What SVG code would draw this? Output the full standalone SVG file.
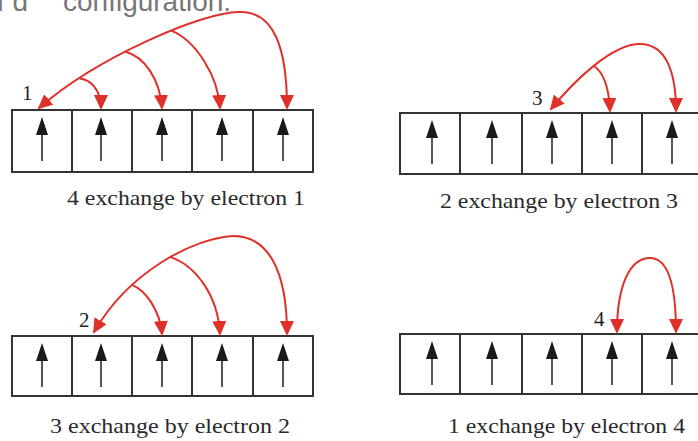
<svg xmlns="http://www.w3.org/2000/svg" xmlns:xlink="http://www.w3.org/1999/xlink" width="698" height="441" viewBox="0 0 698 441">
  <style>
    .cell { fill: #ffffff; stroke: #333333; stroke-width: 2; }
    .shaft { stroke: #555555; stroke-width: 2; }
    .head { fill: #1a1a1a; }
    .exch { fill: none; stroke: #e0302a; stroke-width: 2; marker-end: url(#redhead); }
    .num { font-family: "Liberation Serif", "Times New Roman", serif; font-size: 21px; fill: #222222; }
    .cap { font-family: "Liberation Serif", "Times New Roman", serif; font-size: 22px; fill: #2a2a2a; }
    .top { font-family: "Liberation Sans", Arial, sans-serif; font-size: 28px; fill: #777777; }
  </style>
  <defs>
    <!-- red arrowhead for exchange connectors; tip sits 2px past the path end -->
    <marker id="redhead" markerUnits="userSpaceOnUse" markerWidth="17" markerHeight="15" refX="13" refY="7" orient="auto">
      <path d="M0,0 L15,7 L0,14 z" fill="#e0302a"/>
    </marker>
    <!-- spin-up electron, origin at cell top centre -->
    <g id="spin">
      <line class="shaft" x1="0" y1="24" x2="0" y2="51"/>
      <path class="head" d="M0,7 L-6,25 L6,25 z"/>
    </g>
  </defs>

  <rect width="698" height="441" fill="#ffffff"/>

  <!-- heading text, clipped by the top edge -->
  <text class="top" x="28" y="11" text-anchor="end">of d</text>
  <text class="top" x="63" y="11">configuration.</text>

  <!-- orbital row: electron 1 -->
  <g id="row-e1">
    <rect class="cell" x="12" y="110" width="60" height="62"/>
    <rect class="cell" x="72" y="110" width="60" height="62"/>
    <rect class="cell" x="132" y="110" width="60" height="62"/>
    <rect class="cell" x="192" y="110" width="61" height="62"/>
    <rect class="cell" x="253" y="110" width="60" height="62"/>
    <use xlink:href="#spin" x="42" y="110"/>
    <use xlink:href="#spin" x="101" y="110"/>
    <use xlink:href="#spin" x="162" y="110"/>
    <use xlink:href="#spin" x="222" y="110"/>
    <use xlink:href="#spin" x="283" y="110"/>
    <text class="num" x="22" y="100">1</text>
    <text class="cap" x="67" y="205" textLength="238" lengthAdjust="spacingAndGlyphs">4 exchange by electron 1</text>
  </g>

  <!-- orbital row: electron 3 -->
  <g id="row-e3">
    <rect class="cell" x="400" y="113" width="60" height="61"/>
    <rect class="cell" x="460" y="113" width="62" height="61"/>
    <rect class="cell" x="522" y="113" width="60" height="61"/>
    <rect class="cell" x="582" y="113" width="60" height="61"/>
    <rect class="cell" x="642" y="113" width="60" height="61"/>
    <use xlink:href="#spin" x="432" y="113"/>
    <use xlink:href="#spin" x="492" y="113"/>
    <use xlink:href="#spin" x="552" y="113"/>
    <use xlink:href="#spin" x="612" y="113"/>
    <use xlink:href="#spin" x="672" y="113"/>
    <text class="num" x="532" y="105">3</text>
    <text class="cap" x="440" y="208" textLength="238" lengthAdjust="spacingAndGlyphs">2 exchange by electron 3</text>
  </g>

  <!-- orbital row: electron 2 -->
  <g id="row-e2">
    <rect class="cell" x="12" y="336" width="60" height="60"/>
    <rect class="cell" x="72" y="336" width="60" height="60"/>
    <rect class="cell" x="132" y="336" width="60" height="60"/>
    <rect class="cell" x="192" y="336" width="61" height="60"/>
    <rect class="cell" x="253" y="336" width="60" height="60"/>
    <use xlink:href="#spin" x="42" y="336"/>
    <use xlink:href="#spin" x="101" y="336"/>
    <use xlink:href="#spin" x="162" y="336"/>
    <use xlink:href="#spin" x="222" y="336"/>
    <use xlink:href="#spin" x="283" y="336"/>
    <text class="num" x="79" y="327">2</text>
    <text class="cap" x="50" y="433" textLength="240" lengthAdjust="spacingAndGlyphs">3 exchange by electron 2</text>
  </g>

  <!-- orbital row: electron 4 -->
  <g id="row-e4">
    <rect class="cell" x="400" y="334" width="60" height="60"/>
    <rect class="cell" x="460" y="334" width="62" height="60"/>
    <rect class="cell" x="522" y="334" width="60" height="60"/>
    <rect class="cell" x="582" y="334" width="60" height="60"/>
    <rect class="cell" x="642" y="334" width="60" height="60"/>
    <use xlink:href="#spin" x="432" y="334"/>
    <use xlink:href="#spin" x="492" y="334"/>
    <use xlink:href="#spin" x="552" y="334"/>
    <use xlink:href="#spin" x="612" y="334"/>
    <use xlink:href="#spin" x="672" y="334"/>
    <text class="num" x="594" y="326">4</text>
    <text class="cap" x="448" y="433" textLength="237" lengthAdjust="spacingAndGlyphs">1 exchange by electron 4</text>
  </g>

  <!-- exchange connectors -->
  <g id="connectors">
    <!-- electron 1 -->
    <path class="exch" d="M238,12 C205,12 100,55 39,108"/>
    <path class="exch" d="M238,12 C275,10 287,50 287,108"/>
    <path class="exch" d="M80,78.6 C91,80 101,90 101,108"/>
    <path class="exch" d="M125.6,51.8 C145,57 160,80 162,108"/>
    <path class="exch" d="M171.2,30.6 C195,40 218,75 220,108"/>
    <!-- electron 3 -->
    <path class="exch" d="M640,44 C612,44 575,80 551,109"/>
    <path class="exch" d="M640,44 C665,44 676,70 676,111"/>
    <path class="exch" d="M594,66 C603,72 609,88 610,111"/>
    <!-- electron 2 -->
    <path class="exch" d="M233,236 C195,238 130,270 94,332"/>
    <path class="exch" d="M233,236 C268,236 287,270 287,334"/>
    <path class="exch" d="M132.4,285.1 C145,290 160,310 162,334"/>
    <path class="exch" d="M170.3,257.1 C195,265 218,295 220,334"/>
    <!-- electron 4 -->
    <path class="exch" d="M650,258 C630,258 617,285 617,332"/>
    <path class="exch" d="M650,258 C668,258 676,285 676,332"/>
  </g>
</svg>
